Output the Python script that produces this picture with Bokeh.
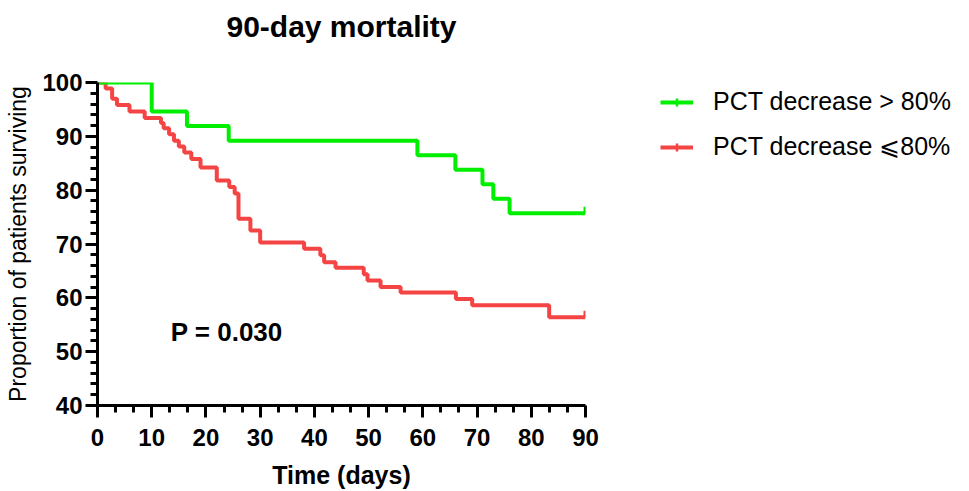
from bokeh.plotting import figure
from bokeh.layouts import row
from bokeh.models import (Range1d, FixedTicker, Legend, LegendItem, Label,
                          Title)
from bokeh.embed import file_html
from bokeh.resources import INLINE

# ---------------- data ----------------
title_text = "90-day mortality"
x_label = "Time (days)"
y_label = "Proportion of patients surviving"
p_text = "P = 0.030"
end_day = 90

grp_hi_label = "PCT decrease > 80%"
grp_hi_days = [0, 10, 16.5, 24.2, 59, 66, 71, 73, 76]
grp_hi_surv = [100, 94.6, 91.9, 89.2, 86.5, 83.8, 81.1, 78.4, 75.7]

grp_lo_label = "PCT decrease \u2a7d80%"
grp_lo_days = [0, 1.5, 2.7, 3.6, 5.9, 8.7, 11.7, 12.2, 13.2, 14.1, 15.0, 16.0,
               17.3, 19.0, 22.0, 24.3, 25.3, 26.0, 28.2, 30.0, 38.1, 41.1,
               41.8, 43.9, 49.1, 49.8, 52.2, 55.9, 66.1, 69.1, 83.3]
grp_lo_surv = [100, 98.9, 97.0, 95.8, 94.6, 93.4, 92.5, 91.5, 90.4, 89.2, 88.1,
               87.0, 85.8, 84.2, 81.8, 80.6, 79.4, 74.7, 72.5, 70.3, 69.1, 67.9,
               66.6, 65.6, 64.4, 63.2, 62.0, 61.0, 59.8, 58.6, 56.4]

x_ticks = [0, 10, 20, 30, 40, 50, 60, 70, 80, 90]
y_ticks = [40, 50, 60, 70, 80, 90, 100]

# ---------------- style ----------------
GREEN = "#00EE00"
RED = "#F44444"
FONT = "Liberation Sans"
LW = 4
TOP, FH, BOTTOM = 82, 323, 86
LEFT, FW, RIGHT = 97, 488, 75
H = TOP + FH + BOTTOM

p = figure(frame_width=FW, frame_height=FH,
           min_border_left=LEFT, min_border_right=RIGHT,
           min_border_top=TOP, min_border_bottom=BOTTOM,
           x_range=Range1d(0, 90), y_range=Range1d(40, 100),
           title=None, output_backend="svg", toolbar_location=None,
           background_fill_color="white", border_fill_color="white")
p.outline_line_color = None
p.grid.visible = False

# spacer between frame and title, then the title itself above it
p.add_layout(Title(text=" ", text_font_size="1px", standoff=36), "above")
p.add_layout(Title(text=title_text, align="center", text_font=FONT,
                   text_font_size="30px", text_font_style="bold",
                   text_color="black", standoff=2), "above")


def step_xy(days, surv):
    xs = list(days) + [end_day]
    ys = list(surv) + [surv[-1]]
    return xs, ys


hx, hy = step_xy(grp_hi_days, grp_hi_surv)
lx, ly = step_xy(grp_lo_days, grp_lo_surv)

p.step(lx, ly, mode="after", line_color=RED, line_width=LW)
p.step(hx, hy, mode="after", line_color=GREEN, line_width=LW)

# censor ticks at end of follow-up
tick_h = 1.2
p.segment(x0=[end_day], y0=[grp_lo_surv[-1]], x1=[end_day],
          y1=[grp_lo_surv[-1] + tick_h], line_color=RED, line_width=LW)
p.segment(x0=[end_day], y0=[grp_hi_surv[-1]], x1=[end_day],
          y1=[grp_hi_surv[-1] + tick_h], line_color=GREEN, line_width=LW)

for ax in (p.xaxis, p.yaxis):
    ax.axis_line_width = 3
    ax.axis_line_color = "black"
    ax.major_tick_line_width = 3
    ax.minor_tick_line_width = 3
    ax.major_tick_line_color = "black"
    ax.minor_tick_line_color = "black"
    ax.major_tick_out = 12
    ax.major_tick_in = 0
    ax.minor_tick_out = 7
    ax.minor_tick_in = 0
    ax.major_label_text_font = FONT
    ax.major_label_text_font_style = "bold"
    ax.major_label_text_font_size = "24px"
    ax.major_label_text_color = "black"
    ax.axis_label_text_font = FONT
    ax.axis_label_text_color = "black"

x_minor = [t + k * 10 / 3 for t in x_ticks[:-1] for k in (1, 2)]
y_minor = [t + k * 2 for t in y_ticks[:-1] for k in (1, 2, 3, 4)]
p.xaxis.ticker = FixedTicker(ticks=x_ticks, minor_ticks=x_minor)
p.yaxis.ticker = FixedTicker(ticks=y_ticks, minor_ticks=y_minor)

p.xaxis.axis_label = x_label
p.xaxis.axis_label_text_font_size = "25px"
p.xaxis.axis_label_text_font_style = "bold"
p.xaxis.major_label_standoff = 11
p.xaxis.axis_label_standoff = 12

p.yaxis.axis_label = y_label
p.yaxis.axis_label_text_font_size = "23px"
p.yaxis.axis_label_text_font_style = "normal"
p.yaxis.major_label_standoff = 3
p.yaxis.axis_label_standoff = 8

p.add_layout(Label(x=13.5, y=53.6, text=p_text, text_font=FONT,
                   text_font_size="26px", text_font_style="bold",
                   text_color="black", text_baseline="middle"))

# ---------------- legend panel (frame aligned with the main plot) ----------
# The series are drawn again here only to give the legend its glyphs; they lie
# outside this panel's 0..1 ranges, so nothing but the legend is visible.
lg = figure(width=953 - (LEFT + FW + RIGHT), height=H, x_axis_location=None,
            y_axis_location=None, min_border=0, output_backend="svg",
            toolbar_location=None, x_range=Range1d(0, 1),
            y_range=Range1d(0, 1), background_fill_color="white",
            border_fill_color="white")
lg.outline_line_color = None
lg.grid.visible = False

items = []
for lab, col, (xs, ys) in ((grp_hi_label, GREEN, (hx, hy)),
                           (grp_lo_label, RED, (lx, ly))):
    ln = lg.line(x=xs, y=ys, line_color=col, line_width=LW)
    tk = lg.scatter(x=[xs[-1]], y=[ys[-1]], marker="cross", size=10,
                    line_color=col, line_width=2.5)
    items.append(LegendItem(label=lab, renderers=[ln, tk]))

legend = Legend(items=items, location=(0, 244), orientation="vertical",
                glyph_width=33, glyph_height=20, label_height=20,
                label_standoff=20, spacing=16, padding=0, margin=0,
                label_text_font=FONT, label_text_font_size="25px",
                label_text_color="black", border_line_color=None,
                background_fill_alpha=0)
lg.add_layout(legend)

layout = row(p, lg)
open("out.html", "w").write(file_html(layout, INLINE))
